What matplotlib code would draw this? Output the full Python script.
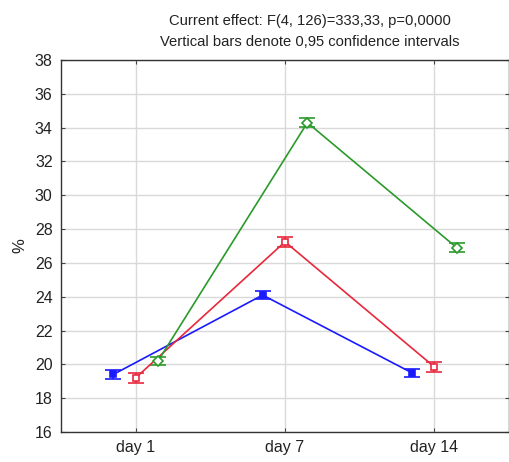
import matplotlib
matplotlib.use("Agg")
import matplotlib.pyplot as plt
import numpy as np

plt.rcParams['font.family'] = ['Liberation Sans', 'DejaVu Sans']

days = ["day 1", "day 7", "day 14"]
y_ticks = [16, 18, 20, 22, 24, 26, 28, 30, 32, 34, 36, 38]

blue_mean = [19.4, 24.1, 19.5]
blue_ci = [0.25, 0.25, 0.25]
red_mean = [19.2, 27.25, 19.85]
red_ci = [0.3, 0.3, 0.3]
green_mean = [20.2, 34.3, 26.9]
green_ci = [0.25, 0.25, 0.25]

series = [
    (blue_mean, blue_ci, "#1a1aff", "s", "#1a1aff", -0.15),
    (red_mean, red_ci, "#e8283c", "s", "white", 0.0),
    (green_mean, green_ci, "#2a9a2a", "D", "white", 0.15),
]

fig = plt.figure(figsize=(5.10, 4.62), dpi=100)
ax = fig.add_axes([0.1196, 0.065, 0.8784, 0.805])

x = np.arange(len(days))
for mean, ci, color, marker, face, off in series:
    ax.errorbar(x + off, mean, yerr=ci, color=color, marker=marker,
                markersize=5, markerfacecolor=face, markeredgecolor=color,
                markeredgewidth=1.2, linewidth=1.2, capsize=6, capthick=1.2,
                elinewidth=1.2, zorder=3)

ax.set_xlim(-0.5, 2.5)
ax.set_ylim(16, 38)
ax.set_xticks(x)
ax.set_xticklabels(days)
ax.set_yticks(y_ticks)
ax.tick_params(axis='both', labelsize=11.5, labelcolor='#222222',
               direction='in', length=3, color='#444444',
               top=True, right=True, pad=6)
ax.grid(True, color='#d9d9d9', linewidth=1.0, zorder=0)
for s in ax.spines.values():
    s.set_color('#333333')
    s.set_linewidth(1.0)
ax.set_ylabel("%", fontsize=12, labelpad=5, color='#222222')

fig.text(0.608, 0.955, "Current effect: F(4, 126)=333,33, p=0,0000",
         ha='center', va='center', fontsize=10.6, color='#222222')
fig.text(0.608, 0.910, "Vertical bars denote 0,95 confidence intervals",
         ha='center', va='center', fontsize=10.6, color='#222222')

fig.savefig("out.png", dpi=100)
